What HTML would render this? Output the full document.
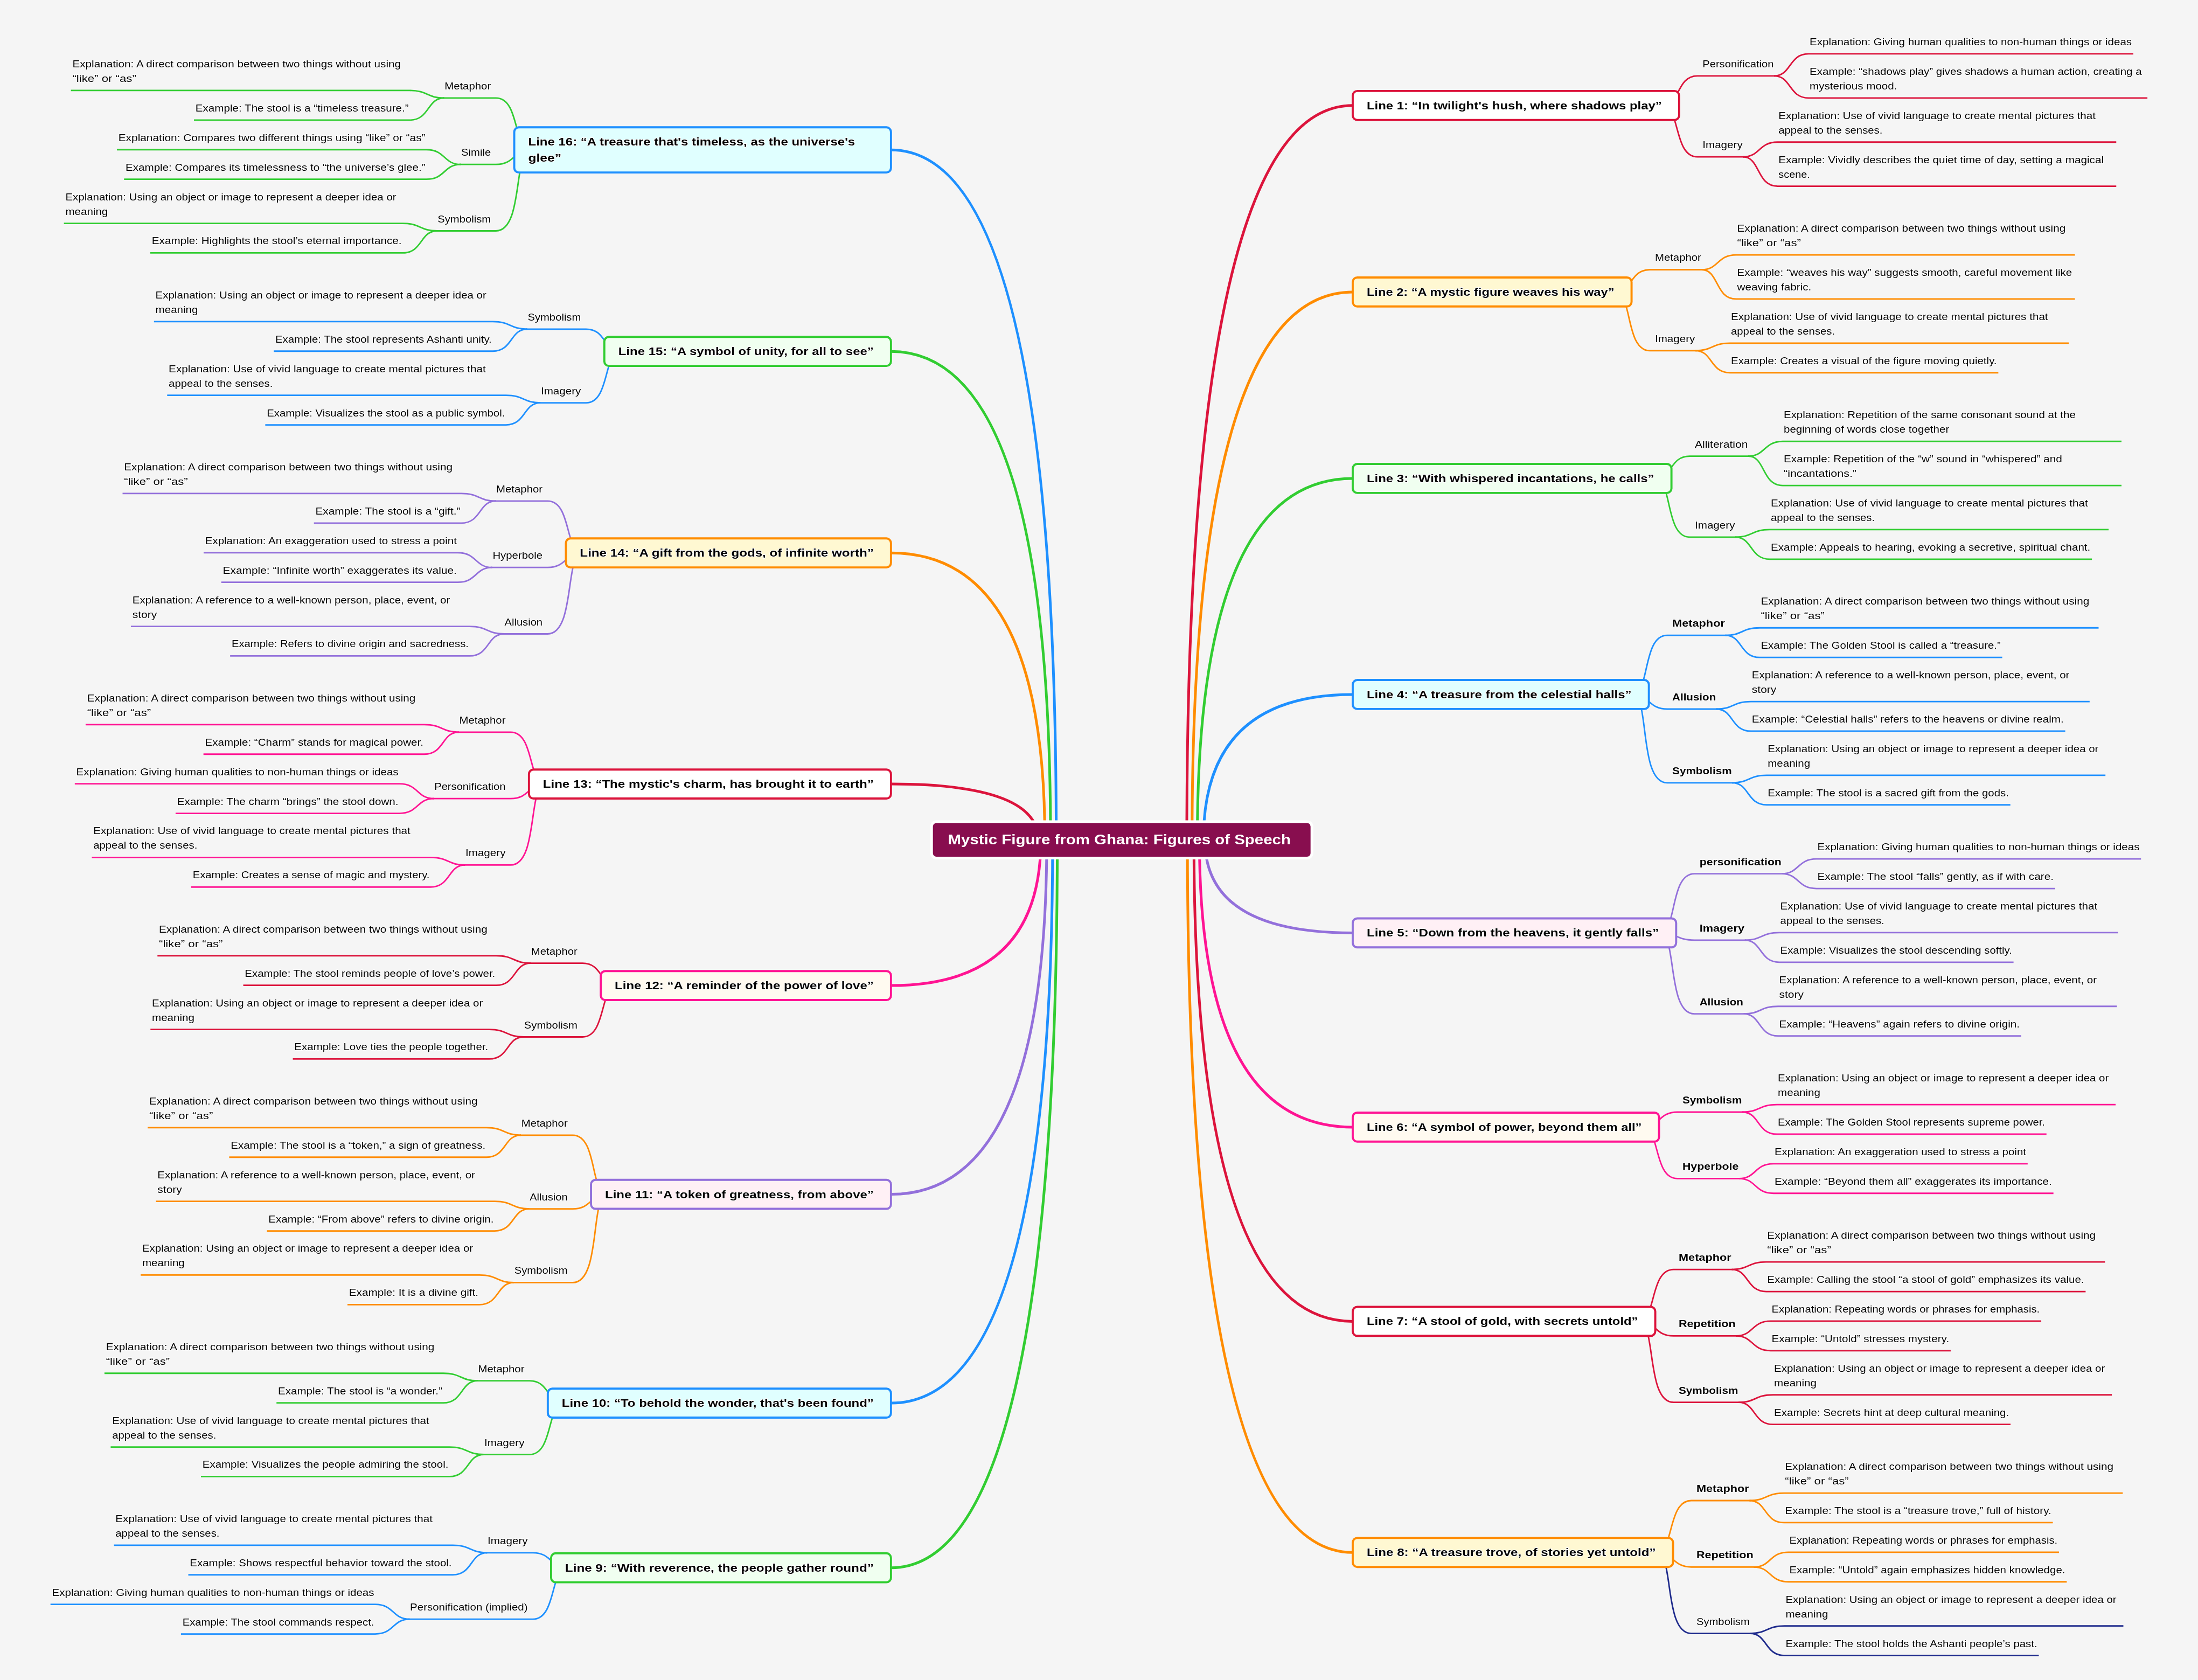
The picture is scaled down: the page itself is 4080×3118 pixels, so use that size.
<!DOCTYPE html><html><head><meta charset="utf-8"><style>html,body{margin:0;padding:0;background:#F5F5F5;}svg{display:block;will-change:transform}text{font-family:"Liberation Sans",sans-serif;}</style></head><body>
<svg width="4080" height="3118" viewBox="0 0 4080 3118">
<rect width="4080" height="3118" fill="#F5F5F5"/>
<g fill="none" stroke-linecap="butt">
<path d="M2202.97 1558.70Q2202.97 195.79 2511.00 195.79" stroke="#DC143C" stroke-width="5.0"/>
<path d="M3086.81 195.79C3118.81 195.79 3111.67 140.89 3150.81 140.89H3295.30" stroke="#DC143C" stroke-width="2.8"/>
<path d="M3293.30 140.89C3325.30 140.89 3319.97 99.94 3357.30 99.94H3959.90" stroke="#DC143C" stroke-width="2.8"/>
<path d="M3293.30 140.89C3325.30 140.89 3319.97 181.84 3357.30 181.84H3986.10" stroke="#DC143C" stroke-width="2.8"/>
<path d="M3086.81 195.79C3118.81 195.79 3106.40 291.19 3150.81 291.19H3237.48" stroke="#DC143C" stroke-width="2.8"/>
<path d="M3235.48 291.19C3267.48 291.19 3263.92 263.74 3299.48 263.74H3928.28" stroke="#DC143C" stroke-width="2.8"/>
<path d="M3235.48 291.19C3267.48 291.19 3260.41 345.64 3299.48 345.64H3928.28" stroke="#DC143C" stroke-width="2.8"/>
<path d="M2212.74 1558.70Q2212.74 541.89 2511.00 541.89" stroke="#FF8C00" stroke-width="5.0"/>
<path d="M2998.51 541.89C3030.51 541.89 3025.13 500.49 3062.51 500.49H3160.70" stroke="#FF8C00" stroke-width="2.8"/>
<path d="M3158.70 500.49C3190.70 500.49 3187.13 473.04 3222.70 473.04H3851.50" stroke="#FF8C00" stroke-width="2.8"/>
<path d="M3158.70 500.49C3190.70 500.49 3183.62 554.94 3222.70 554.94H3851.50" stroke="#FF8C00" stroke-width="2.8"/>
<path d="M2998.51 541.89C3030.51 541.89 3016.35 650.79 3062.51 650.79H3149.19" stroke="#FF8C00" stroke-width="2.8"/>
<path d="M3147.19 650.79C3179.19 650.79 3177.37 636.84 3211.19 636.84H3839.99" stroke="#FF8C00" stroke-width="2.8"/>
<path d="M3147.19 650.79C3179.19 650.79 3173.86 691.74 3211.19 691.74H3709.38" stroke="#FF8C00" stroke-width="2.8"/>
<path d="M2222.52 1558.70Q2222.52 887.99 2511.00 887.99" stroke="#32CD32" stroke-width="5.0"/>
<path d="M3072.56 887.99C3104.56 887.99 3099.17 846.59 3136.56 846.59H3247.17" stroke="#32CD32" stroke-width="2.8"/>
<path d="M3245.17 846.59C3277.17 846.59 3273.60 819.14 3309.17 819.14H3937.97" stroke="#32CD32" stroke-width="2.8"/>
<path d="M3245.17 846.59C3277.17 846.59 3270.09 901.04 3309.17 901.04H3937.97" stroke="#32CD32" stroke-width="2.8"/>
<path d="M3072.56 887.99C3104.56 887.99 3090.40 996.89 3136.56 996.89H3223.23" stroke="#32CD32" stroke-width="2.8"/>
<path d="M3221.23 996.89C3253.23 996.89 3251.42 982.94 3285.23 982.94H3914.03" stroke="#32CD32" stroke-width="2.8"/>
<path d="M3221.23 996.89C3253.23 996.89 3247.91 1037.84 3285.23 1037.84H3883.13" stroke="#32CD32" stroke-width="2.8"/>
<path d="M2233.85 1558.70Q2233.85 1288.99 2511.00 1288.99" stroke="#1E90FF" stroke-width="5.0"/>
<path d="M3030.63 1288.99C3062.63 1288.99 3048.36 1179.19 3094.63 1179.19H3204.67" stroke="#1E90FF" stroke-width="2.8"/>
<path d="M3202.67 1179.19C3234.67 1179.19 3232.86 1165.24 3266.67 1165.24H3895.47" stroke="#1E90FF" stroke-width="2.8"/>
<path d="M3202.67 1179.19C3234.67 1179.19 3229.35 1220.14 3266.67 1220.14H3716.60" stroke="#1E90FF" stroke-width="2.8"/>
<path d="M3030.63 1288.99C3062.63 1288.99 3059.12 1315.99 3094.63 1315.99H3188.03" stroke="#1E90FF" stroke-width="2.8"/>
<path d="M3186.03 1315.99C3218.03 1315.99 3216.22 1302.04 3250.03 1302.04H3878.83" stroke="#1E90FF" stroke-width="2.8"/>
<path d="M3186.03 1315.99C3218.03 1315.99 3212.71 1356.94 3250.03 1356.94H3833.58" stroke="#1E90FF" stroke-width="2.8"/>
<path d="M3030.63 1288.99C3062.63 1288.99 3041.34 1452.79 3094.63 1452.79H3217.39" stroke="#1E90FF" stroke-width="2.8"/>
<path d="M3215.39 1452.79C3247.39 1452.79 3245.58 1438.84 3279.39 1438.84H3908.19" stroke="#1E90FF" stroke-width="2.8"/>
<path d="M3215.39 1452.79C3247.39 1452.79 3242.07 1493.74 3279.39 1493.74H3731.71" stroke="#1E90FF" stroke-width="2.8"/>
<path d="M2236.59 1558.70Q2236.59 1731.39 2511.00 1731.39" stroke="#9370DB" stroke-width="5.0"/>
<path d="M3081.26 1731.39C3113.26 1731.39 3098.99 1621.59 3145.26 1621.59H3309.64" stroke="#9370DB" stroke-width="2.8"/>
<path d="M3307.64 1621.59C3339.64 1621.59 3336.07 1594.14 3371.64 1594.14H3974.24" stroke="#9370DB" stroke-width="2.8"/>
<path d="M3307.64 1621.59C3339.64 1621.59 3336.07 1649.04 3371.64 1649.04H3814.88" stroke="#9370DB" stroke-width="2.8"/>
<path d="M3081.26 1731.39C3113.26 1731.39 3111.50 1744.89 3145.26 1744.89H3240.80" stroke="#9370DB" stroke-width="2.8"/>
<path d="M3238.80 1744.89C3270.80 1744.89 3268.98 1730.94 3302.80 1730.94H3931.60" stroke="#9370DB" stroke-width="2.8"/>
<path d="M3238.80 1744.89C3270.80 1744.89 3265.47 1785.84 3302.80 1785.84H3737.60" stroke="#9370DB" stroke-width="2.8"/>
<path d="M3081.26 1731.39C3113.26 1731.39 3093.72 1881.69 3145.26 1881.69H3238.66" stroke="#9370DB" stroke-width="2.8"/>
<path d="M3236.66 1881.69C3268.66 1881.69 3266.84 1867.74 3300.66 1867.74H3929.46" stroke="#9370DB" stroke-width="2.8"/>
<path d="M3236.66 1881.69C3268.66 1881.69 3263.33 1922.64 3300.66 1922.64H3751.79" stroke="#9370DB" stroke-width="2.8"/>
<path d="M2226.40 1558.70Q2226.40 2091.89 2511.00 2091.89" stroke="#FF1493" stroke-width="5.0"/>
<path d="M3049.51 2091.89C3081.51 2091.89 3077.88 2063.99 3113.51 2063.99H3236.27" stroke="#FF1493" stroke-width="2.8"/>
<path d="M3234.27 2063.99C3266.27 2063.99 3264.45 2050.04 3298.27 2050.04H3927.07" stroke="#FF1493" stroke-width="2.8"/>
<path d="M3234.27 2063.99C3266.27 2063.99 3260.94 2104.94 3298.27 2104.94H3798.72" stroke="#FF1493" stroke-width="2.8"/>
<path d="M3049.51 2091.89C3081.51 2091.89 3069.11 2187.29 3113.51 2187.29H3230.14" stroke="#FF1493" stroke-width="2.8"/>
<path d="M3228.14 2187.29C3260.14 2187.29 3256.57 2159.84 3292.14 2159.84H3763.83" stroke="#FF1493" stroke-width="2.8"/>
<path d="M3228.14 2187.29C3260.14 2187.29 3256.57 2214.74 3292.14 2214.74H3811.68" stroke="#FF1493" stroke-width="2.8"/>
<path d="M2216.22 1558.70Q2216.22 2452.39 2511.00 2452.39" stroke="#DC143C" stroke-width="5.0"/>
<path d="M3042.51 2452.39C3074.51 2452.39 3061.99 2356.09 3106.51 2356.09H3216.55" stroke="#DC143C" stroke-width="2.8"/>
<path d="M3214.55 2356.09C3246.55 2356.09 3244.73 2342.14 3278.55 2342.14H3907.35" stroke="#DC143C" stroke-width="2.8"/>
<path d="M3214.55 2356.09C3246.55 2356.09 3241.22 2397.04 3278.55 2397.04H3871.38" stroke="#DC143C" stroke-width="2.8"/>
<path d="M3042.51 2452.39C3074.51 2452.39 3071.00 2479.39 3106.51 2479.39H3224.64" stroke="#DC143C" stroke-width="2.8"/>
<path d="M3222.64 2479.39C3254.64 2479.39 3251.07 2451.94 3286.64 2451.94H3789.05" stroke="#DC143C" stroke-width="2.8"/>
<path d="M3222.64 2479.39C3254.64 2479.39 3251.07 2506.84 3286.64 2506.84H3620.94" stroke="#DC143C" stroke-width="2.8"/>
<path d="M3042.51 2452.39C3074.51 2452.39 3054.97 2602.69 3106.51 2602.69H3229.27" stroke="#DC143C" stroke-width="2.8"/>
<path d="M3227.27 2602.69C3259.27 2602.69 3257.45 2588.74 3291.27 2588.74H3920.07" stroke="#DC143C" stroke-width="2.8"/>
<path d="M3227.27 2602.69C3259.27 2602.69 3253.94 2643.64 3291.27 2643.64H3732.02" stroke="#DC143C" stroke-width="2.8"/>
<path d="M2204.11 1558.70Q2204.11 2881.29 2511.00 2881.29" stroke="#FF8C00" stroke-width="5.0"/>
<path d="M3075.48 2881.29C3107.48 2881.29 3094.96 2784.99 3139.48 2784.99H3249.52" stroke="#FF8C00" stroke-width="2.8"/>
<path d="M3247.52 2784.99C3279.52 2784.99 3277.70 2771.04 3311.52 2771.04H3940.32" stroke="#FF8C00" stroke-width="2.8"/>
<path d="M3247.52 2784.99C3279.52 2784.99 3274.19 2825.94 3311.52 2825.94H3810.55" stroke="#FF8C00" stroke-width="2.8"/>
<path d="M3075.48 2881.29C3107.48 2881.29 3103.97 2908.29 3139.48 2908.29H3257.61" stroke="#FF8C00" stroke-width="2.8"/>
<path d="M3255.61 2908.29C3287.61 2908.29 3284.04 2880.84 3319.61 2880.84H3822.02" stroke="#FF8C00" stroke-width="2.8"/>
<path d="M3255.61 2908.29C3287.61 2908.29 3284.04 2935.74 3319.61 2935.74H3836.35" stroke="#FF8C00" stroke-width="2.8"/>
<path d="M3075.48 2881.29C3107.48 2881.29 3087.94 3031.59 3139.48 3031.59H3250.67" stroke="#1F2B8C" stroke-width="2.8"/>
<path d="M3248.67 3031.59C3280.67 3031.59 3278.86 3017.64 3312.67 3017.64H3941.47" stroke="#1F2B8C" stroke-width="2.8"/>
<path d="M3248.67 3031.59C3280.67 3031.59 3275.35 3072.54 3312.67 3072.54H3784.49" stroke="#1F2B8C" stroke-width="2.8"/>
<path d="M1960.60 1558.70Q1960.60 278.20 1653.80 278.20" stroke="#1E90FF" stroke-width="5.0"/>
<path d="M984.60 278.20C952.60 278.20 965.12 181.90 920.60 181.90H822.41" stroke="#32CD32" stroke-width="2.8"/>
<path d="M824.41 181.90C792.41 181.90 794.22 167.95 760.41 167.95H131.61" stroke="#32CD32" stroke-width="2.8"/>
<path d="M824.41 181.90C792.41 181.90 797.73 222.85 760.41 222.85H360.04" stroke="#32CD32" stroke-width="2.8"/>
<path d="M984.60 278.20C952.60 278.20 956.11 305.20 920.60 305.20H853.33" stroke="#32CD32" stroke-width="2.8"/>
<path d="M855.33 305.20C823.33 305.20 826.90 277.75 791.33 277.75H216.93" stroke="#32CD32" stroke-width="2.8"/>
<path d="M855.33 305.20C823.33 305.20 826.90 332.65 791.33 332.65H230.26" stroke="#32CD32" stroke-width="2.8"/>
<path d="M984.60 278.20C952.60 278.20 972.14 428.50 920.60 428.50H809.41" stroke="#32CD32" stroke-width="2.8"/>
<path d="M811.41 428.50C779.41 428.50 781.22 414.55 747.41 414.55H118.61" stroke="#32CD32" stroke-width="2.8"/>
<path d="M811.41 428.50C779.41 428.50 784.73 469.45 747.41 469.45H279.01" stroke="#32CD32" stroke-width="2.8"/>
<path d="M1950.04 1558.70Q1950.04 652.20 1653.80 652.20" stroke="#32CD32" stroke-width="5.0"/>
<path d="M1151.81 652.20C1119.81 652.20 1125.19 610.80 1087.81 610.80H976.61" stroke="#1E90FF" stroke-width="2.8"/>
<path d="M978.61 610.80C946.61 610.80 948.43 596.85 914.61 596.85H285.81" stroke="#1E90FF" stroke-width="2.8"/>
<path d="M978.61 610.80C946.61 610.80 951.94 651.75 914.61 651.75H508.12" stroke="#1E90FF" stroke-width="2.8"/>
<path d="M1151.81 652.20C1119.81 652.20 1132.21 747.60 1087.81 747.60H1001.13" stroke="#1E90FF" stroke-width="2.8"/>
<path d="M1003.13 747.60C971.13 747.60 972.94 733.65 939.13 733.65H310.33" stroke="#1E90FF" stroke-width="2.8"/>
<path d="M1003.13 747.60C971.13 747.60 976.45 788.55 939.13 788.55H492.39" stroke="#1E90FF" stroke-width="2.8"/>
<path d="M1939.48 1558.70Q1939.48 1026.20 1653.80 1026.20" stroke="#FF8C00" stroke-width="5.0"/>
<path d="M1080.49 1026.20C1048.49 1026.20 1061.01 929.90 1016.49 929.90H918.30" stroke="#9370DB" stroke-width="2.8"/>
<path d="M920.30 929.90C888.30 929.90 890.11 915.95 856.30 915.95H227.50" stroke="#9370DB" stroke-width="2.8"/>
<path d="M920.30 929.90C888.30 929.90 893.62 970.85 856.30 970.85H582.70" stroke="#9370DB" stroke-width="2.8"/>
<path d="M1080.49 1026.20C1048.49 1026.20 1052.00 1053.20 1016.49 1053.20H911.64" stroke="#9370DB" stroke-width="2.8"/>
<path d="M913.64 1053.20C881.64 1053.20 885.21 1025.75 849.64 1025.75H377.95" stroke="#9370DB" stroke-width="2.8"/>
<path d="M913.64 1053.20C881.64 1053.20 885.21 1080.65 849.64 1080.65H410.76" stroke="#9370DB" stroke-width="2.8"/>
<path d="M1080.49 1026.20C1048.49 1026.20 1068.03 1176.50 1016.49 1176.50H933.74" stroke="#9370DB" stroke-width="2.8"/>
<path d="M935.74 1176.50C903.74 1176.50 905.55 1162.55 871.74 1162.55H242.94" stroke="#9370DB" stroke-width="2.8"/>
<path d="M935.74 1176.50C903.74 1176.50 909.06 1217.45 871.74 1217.45H427.19" stroke="#9370DB" stroke-width="2.8"/>
<path d="M1927.36 1558.70Q1927.36 1455.10 1653.80 1455.10" stroke="#DC143C" stroke-width="5.0"/>
<path d="M1011.90 1455.10C979.90 1455.10 992.42 1358.80 947.90 1358.80H849.71" stroke="#FF1493" stroke-width="2.8"/>
<path d="M851.71 1358.80C819.71 1358.80 821.52 1344.85 787.71 1344.85H158.91" stroke="#FF1493" stroke-width="2.8"/>
<path d="M851.71 1358.80C819.71 1358.80 825.03 1399.75 787.71 1399.75H377.67" stroke="#FF1493" stroke-width="2.8"/>
<path d="M1011.90 1455.10C979.90 1455.10 983.41 1482.10 947.90 1482.10H803.41" stroke="#FF1493" stroke-width="2.8"/>
<path d="M805.41 1482.10C773.41 1482.10 776.98 1454.65 741.41 1454.65H138.81" stroke="#FF1493" stroke-width="2.8"/>
<path d="M805.41 1482.10C773.41 1482.10 776.98 1509.55 741.41 1509.55H325.92" stroke="#FF1493" stroke-width="2.8"/>
<path d="M1011.90 1455.10C979.90 1455.10 999.44 1605.40 947.90 1605.40H861.22" stroke="#FF1493" stroke-width="2.8"/>
<path d="M863.22 1605.40C831.22 1605.40 833.04 1591.45 799.22 1591.45H170.42" stroke="#FF1493" stroke-width="2.8"/>
<path d="M863.22 1605.40C831.22 1605.40 836.55 1646.35 799.22 1646.35H354.87" stroke="#FF1493" stroke-width="2.8"/>
<path d="M1932.07 1558.70Q1932.07 1829.10 1653.80 1829.10" stroke="#FF1493" stroke-width="5.0"/>
<path d="M1145.24 1829.10C1113.24 1829.10 1118.63 1787.70 1081.24 1787.70H983.05" stroke="#DC143C" stroke-width="2.8"/>
<path d="M985.05 1787.70C953.05 1787.70 954.86 1773.75 921.05 1773.75H292.25" stroke="#DC143C" stroke-width="2.8"/>
<path d="M985.05 1787.70C953.05 1787.70 958.37 1828.65 921.05 1828.65H451.56" stroke="#DC143C" stroke-width="2.8"/>
<path d="M1145.24 1829.10C1113.24 1829.10 1125.65 1924.50 1081.24 1924.50H970.05" stroke="#DC143C" stroke-width="2.8"/>
<path d="M972.05 1924.50C940.05 1924.50 941.86 1910.55 908.05 1910.55H279.25" stroke="#DC143C" stroke-width="2.8"/>
<path d="M972.05 1924.50C940.05 1924.50 945.37 1965.45 908.05 1965.45H543.56" stroke="#DC143C" stroke-width="2.8"/>
<path d="M1943.02 1558.70Q1943.02 2216.60 1653.80 2216.60" stroke="#9370DB" stroke-width="5.0"/>
<path d="M1127.10 2216.60C1095.10 2216.60 1109.38 2106.80 1063.10 2106.80H964.91" stroke="#FF8C00" stroke-width="2.8"/>
<path d="M966.91 2106.80C934.91 2106.80 936.72 2092.85 902.91 2092.85H274.11" stroke="#FF8C00" stroke-width="2.8"/>
<path d="M966.91 2106.80C934.91 2106.80 940.23 2147.75 902.91 2147.75H425.45" stroke="#FF8C00" stroke-width="2.8"/>
<path d="M1127.10 2216.60C1095.10 2216.60 1098.61 2243.60 1063.10 2243.60H980.35" stroke="#FF8C00" stroke-width="2.8"/>
<path d="M982.35 2243.60C950.35 2243.60 952.16 2229.65 918.35 2229.65H289.55" stroke="#FF8C00" stroke-width="2.8"/>
<path d="M982.35 2243.60C950.35 2243.60 955.67 2284.55 918.35 2284.55H495.45" stroke="#FF8C00" stroke-width="2.8"/>
<path d="M1127.10 2216.60C1095.10 2216.60 1116.40 2380.40 1063.10 2380.40H951.91" stroke="#FF8C00" stroke-width="2.8"/>
<path d="M953.91 2380.40C921.91 2380.40 923.72 2366.45 889.91 2366.45H261.11" stroke="#FF8C00" stroke-width="2.8"/>
<path d="M953.91 2380.40C921.91 2380.40 927.23 2421.35 889.91 2421.35H644.98" stroke="#FF8C00" stroke-width="2.8"/>
<path d="M1953.96 1558.70Q1953.96 2604.10 1653.80 2604.10" stroke="#1E90FF" stroke-width="5.0"/>
<path d="M1046.90 2604.10C1014.90 2604.10 1020.28 2562.70 982.90 2562.70H884.71" stroke="#32CD32" stroke-width="2.8"/>
<path d="M886.71 2562.70C854.71 2562.70 856.52 2548.75 822.71 2548.75H193.91" stroke="#32CD32" stroke-width="2.8"/>
<path d="M886.71 2562.70C854.71 2562.70 860.03 2603.65 822.71 2603.65H513.23" stroke="#32CD32" stroke-width="2.8"/>
<path d="M1046.90 2604.10C1014.90 2604.10 1027.30 2699.50 982.90 2699.50H896.22" stroke="#32CD32" stroke-width="2.8"/>
<path d="M898.22 2699.50C866.22 2699.50 868.04 2685.55 834.22 2685.55H205.42" stroke="#32CD32" stroke-width="2.8"/>
<path d="M898.22 2699.50C866.22 2699.50 871.55 2740.45 834.22 2740.45H373.00" stroke="#32CD32" stroke-width="2.8"/>
<path d="M1962.59 1558.70Q1962.59 2909.70 1653.80 2909.70" stroke="#32CD32" stroke-width="5.0"/>
<path d="M1052.99 2909.70C1020.99 2909.70 1024.62 2881.80 988.99 2881.80H902.32" stroke="#1E90FF" stroke-width="2.8"/>
<path d="M904.32 2881.80C872.32 2881.80 874.13 2867.85 840.32 2867.85H211.52" stroke="#1E90FF" stroke-width="2.8"/>
<path d="M904.32 2881.80C872.32 2881.80 877.64 2922.75 840.32 2922.75H349.54" stroke="#1E90FF" stroke-width="2.8"/>
<path d="M1052.99 2909.70C1020.99 2909.70 1033.40 3005.10 988.99 3005.10H758.30" stroke="#1E90FF" stroke-width="2.8"/>
<path d="M760.30 3005.10C728.30 3005.10 731.87 2977.65 696.30 2977.65H93.70" stroke="#1E90FF" stroke-width="2.8"/>
<path d="M760.30 3005.10C728.30 3005.10 731.87 3032.55 696.30 3032.55H335.87" stroke="#1E90FF" stroke-width="2.8"/>
</g>
<rect x="2510.95" y="168.86" width="605.91" height="53.85" rx="8.5" fill="#FFFFFF" stroke="#DC143C" stroke-width="3.9"/>
<rect x="2510.95" y="514.96" width="517.61" height="53.85" rx="8.5" fill="#FFF8D2" stroke="#FF8C00" stroke-width="3.9"/>
<rect x="2510.95" y="861.06" width="591.66" height="53.85" rx="8.5" fill="#F0FFF0" stroke="#32CD32" stroke-width="3.9"/>
<rect x="2510.95" y="1262.07" width="549.73" height="53.85" rx="8.5" fill="#E0FFFF" stroke="#1E90FF" stroke-width="3.9"/>
<rect x="2510.95" y="1704.47" width="600.36" height="53.85" rx="8.5" fill="#FFF0F5" stroke="#9370DB" stroke-width="3.9"/>
<rect x="2510.95" y="2064.97" width="568.61" height="53.85" rx="8.5" fill="#FFFAF0" stroke="#FF1493" stroke-width="3.9"/>
<rect x="2510.95" y="2425.47" width="561.61" height="53.85" rx="8.5" fill="#FFFFFF" stroke="#DC143C" stroke-width="3.9"/>
<rect x="2510.95" y="2854.37" width="594.58" height="53.85" rx="8.5" fill="#FFF8D2" stroke="#FF8C00" stroke-width="3.9"/>
<rect x="954.55" y="236.27" width="699.30" height="83.85" rx="8.5" fill="#E0FFFF" stroke="#1E90FF" stroke-width="3.9"/>
<rect x="1121.76" y="625.27" width="532.09" height="53.85" rx="8.5" fill="#F0FFF0" stroke="#32CD32" stroke-width="3.9"/>
<rect x="1050.44" y="999.27" width="603.41" height="53.85" rx="8.5" fill="#FFF8D2" stroke="#FF8C00" stroke-width="3.9"/>
<rect x="981.85" y="1428.18" width="672.00" height="53.85" rx="8.5" fill="#FFFFFF" stroke="#DC143C" stroke-width="3.9"/>
<rect x="1115.19" y="1802.18" width="538.66" height="53.85" rx="8.5" fill="#FFFAF0" stroke="#FF1493" stroke-width="3.9"/>
<rect x="1097.05" y="2189.68" width="556.80" height="53.85" rx="8.5" fill="#FFF0F5" stroke="#9370DB" stroke-width="3.9"/>
<rect x="1016.85" y="2577.18" width="637.00" height="53.85" rx="8.5" fill="#E0FFFF" stroke="#1E90FF" stroke-width="3.9"/>
<rect x="1022.94" y="2882.78" width="630.91" height="53.85" rx="8.5" fill="#F0FFF0" stroke="#32CD32" stroke-width="3.9"/>
<rect x="1729.20" y="1524.90" width="706.00" height="67.60" rx="9" fill="#880E4F" stroke="#FFFFFF" stroke-width="5"/>
<text x="2536.90" y="202.79" font-size="20.9" font-weight="bold" fill="#000" textLength="547.91" lengthAdjust="spacingAndGlyphs" stroke="#FFFFFF" stroke-width="2" paint-order="stroke" stroke-linejoin="round">Line 1: “In twilight's hush, where shadows play”</text>
<text x="3160.25" y="124.89" font-size="18.8" fill="#000" textLength="132.25" lengthAdjust="spacingAndGlyphs" stroke="#FFFFFF" stroke-width="2" paint-order="stroke" stroke-linejoin="round">Personification</text>
<text x="3359.10" y="83.94" font-size="18.8" fill="#000" textLength="598.00" lengthAdjust="spacingAndGlyphs" stroke="#FFFFFF" stroke-width="2" paint-order="stroke" stroke-linejoin="round">Explanation: Giving human qualities to non-human things or ideas</text>
<text x="3359.10" y="138.84" font-size="18.8" fill="#000" textLength="616.48" lengthAdjust="spacingAndGlyphs" stroke="#FFFFFF" stroke-width="2" paint-order="stroke" stroke-linejoin="round">Example: “shadows play” gives shadows a human action, creating a</text>
<text x="3359.10" y="165.84" font-size="18.8" fill="#000" textLength="162.33" lengthAdjust="spacingAndGlyphs" stroke="#FFFFFF" stroke-width="2" paint-order="stroke" stroke-linejoin="round">mysterious mood.</text>
<text x="3160.25" y="275.19" font-size="18.8" fill="#000" textLength="74.44" lengthAdjust="spacingAndGlyphs" stroke="#FFFFFF" stroke-width="2" paint-order="stroke" stroke-linejoin="round">Imagery</text>
<text x="3301.28" y="220.74" font-size="18.8" fill="#000" textLength="588.61" lengthAdjust="spacingAndGlyphs" stroke="#FFFFFF" stroke-width="2" paint-order="stroke" stroke-linejoin="round">Explanation: Use of vivid language to create mental pictures that</text>
<text x="3301.28" y="247.74" font-size="18.8" fill="#000" textLength="193.17" lengthAdjust="spacingAndGlyphs" stroke="#FFFFFF" stroke-width="2" paint-order="stroke" stroke-linejoin="round">appeal to the senses.</text>
<text x="3301.28" y="302.64" font-size="18.8" fill="#000" textLength="603.77" lengthAdjust="spacingAndGlyphs" stroke="#FFFFFF" stroke-width="2" paint-order="stroke" stroke-linejoin="round">Example: Vividly describes the quiet time of day, setting a magical</text>
<text x="3301.28" y="329.64" font-size="18.8" fill="#000" textLength="58.55" lengthAdjust="spacingAndGlyphs" stroke="#FFFFFF" stroke-width="2" paint-order="stroke" stroke-linejoin="round">scene.</text>
<text x="2536.90" y="548.89" font-size="20.9" font-weight="bold" fill="#000" textLength="459.61" lengthAdjust="spacingAndGlyphs" stroke="#FFFFFF" stroke-width="2" paint-order="stroke" stroke-linejoin="round">Line 2: “A mystic figure weaves his way”</text>
<text x="3071.95" y="484.49" font-size="18.8" fill="#000" textLength="85.95" lengthAdjust="spacingAndGlyphs" stroke="#FFFFFF" stroke-width="2" paint-order="stroke" stroke-linejoin="round">Metaphor</text>
<text x="3224.50" y="430.04" font-size="18.8" fill="#000" textLength="609.69" lengthAdjust="spacingAndGlyphs" stroke="#FFFFFF" stroke-width="2" paint-order="stroke" stroke-linejoin="round">Explanation: A direct comparison between two things without using</text>
<text x="3224.50" y="457.04" font-size="18.8" fill="#000" textLength="118.44" lengthAdjust="spacingAndGlyphs" stroke="#FFFFFF" stroke-width="2" paint-order="stroke" stroke-linejoin="round">“like” or “as”</text>
<text x="3224.50" y="511.94" font-size="18.8" fill="#000" textLength="621.67" lengthAdjust="spacingAndGlyphs" stroke="#FFFFFF" stroke-width="2" paint-order="stroke" stroke-linejoin="round">Example: “weaves his way” suggests smooth, careful movement like</text>
<text x="3224.50" y="538.94" font-size="18.8" fill="#000" textLength="137.84" lengthAdjust="spacingAndGlyphs" stroke="#FFFFFF" stroke-width="2" paint-order="stroke" stroke-linejoin="round">weaving fabric.</text>
<text x="3071.95" y="634.79" font-size="18.8" fill="#000" textLength="74.44" lengthAdjust="spacingAndGlyphs" stroke="#FFFFFF" stroke-width="2" paint-order="stroke" stroke-linejoin="round">Imagery</text>
<text x="3212.99" y="593.84" font-size="18.8" fill="#000" textLength="588.61" lengthAdjust="spacingAndGlyphs" stroke="#FFFFFF" stroke-width="2" paint-order="stroke" stroke-linejoin="round">Explanation: Use of vivid language to create mental pictures that</text>
<text x="3212.99" y="620.84" font-size="18.8" fill="#000" textLength="193.17" lengthAdjust="spacingAndGlyphs" stroke="#FFFFFF" stroke-width="2" paint-order="stroke" stroke-linejoin="round">appeal to the senses.</text>
<text x="3212.99" y="675.74" font-size="18.8" fill="#000" textLength="493.59" lengthAdjust="spacingAndGlyphs" stroke="#FFFFFF" stroke-width="2" paint-order="stroke" stroke-linejoin="round">Example: Creates a visual of the figure moving quietly.</text>
<text x="2536.90" y="894.99" font-size="20.9" font-weight="bold" fill="#000" textLength="533.66" lengthAdjust="spacingAndGlyphs" stroke="#FFFFFF" stroke-width="2" paint-order="stroke" stroke-linejoin="round">Line 3: “With whispered incantations, he calls”</text>
<text x="3146.00" y="830.59" font-size="18.8" fill="#000" textLength="98.38" lengthAdjust="spacingAndGlyphs" stroke="#FFFFFF" stroke-width="2" paint-order="stroke" stroke-linejoin="round">Alliteration</text>
<text x="3310.97" y="776.14" font-size="18.8" fill="#000" textLength="541.83" lengthAdjust="spacingAndGlyphs" stroke="#FFFFFF" stroke-width="2" paint-order="stroke" stroke-linejoin="round">Explanation: Repetition of the same consonant sound at the</text>
<text x="3310.97" y="803.14" font-size="18.8" fill="#000" textLength="307.31" lengthAdjust="spacingAndGlyphs" stroke="#FFFFFF" stroke-width="2" paint-order="stroke" stroke-linejoin="round">beginning of words close together</text>
<text x="3310.97" y="858.04" font-size="18.8" fill="#000" textLength="516.78" lengthAdjust="spacingAndGlyphs" stroke="#FFFFFF" stroke-width="2" paint-order="stroke" stroke-linejoin="round">Example: Repetition of the “w” sound in “whispered” and</text>
<text x="3310.97" y="885.04" font-size="18.8" fill="#000" textLength="135.06" lengthAdjust="spacingAndGlyphs" stroke="#FFFFFF" stroke-width="2" paint-order="stroke" stroke-linejoin="round">“incantations.”</text>
<text x="3146.00" y="980.89" font-size="18.8" fill="#000" textLength="74.44" lengthAdjust="spacingAndGlyphs" stroke="#FFFFFF" stroke-width="2" paint-order="stroke" stroke-linejoin="round">Imagery</text>
<text x="3287.03" y="939.94" font-size="18.8" fill="#000" textLength="588.61" lengthAdjust="spacingAndGlyphs" stroke="#FFFFFF" stroke-width="2" paint-order="stroke" stroke-linejoin="round">Explanation: Use of vivid language to create mental pictures that</text>
<text x="3287.03" y="966.94" font-size="18.8" fill="#000" textLength="193.17" lengthAdjust="spacingAndGlyphs" stroke="#FFFFFF" stroke-width="2" paint-order="stroke" stroke-linejoin="round">appeal to the senses.</text>
<text x="3287.03" y="1021.84" font-size="18.8" fill="#000" textLength="593.30" lengthAdjust="spacingAndGlyphs" stroke="#FFFFFF" stroke-width="2" paint-order="stroke" stroke-linejoin="round">Example: Appeals to hearing, evoking a secretive, spiritual chant.</text>
<text x="2536.90" y="1295.99" font-size="20.9" font-weight="bold" fill="#000" textLength="491.73" lengthAdjust="spacingAndGlyphs" stroke="#FFFFFF" stroke-width="2" paint-order="stroke" stroke-linejoin="round">Line 4: “A treasure from the celestial halls”</text>
<text x="3104.07" y="1163.19" font-size="18.8" font-weight="bold" fill="#000" textLength="97.80" lengthAdjust="spacingAndGlyphs" stroke="#FFFFFF" stroke-width="2" paint-order="stroke" stroke-linejoin="round">Metaphor</text>
<text x="3268.47" y="1122.24" font-size="18.8" fill="#000" textLength="609.69" lengthAdjust="spacingAndGlyphs" stroke="#FFFFFF" stroke-width="2" paint-order="stroke" stroke-linejoin="round">Explanation: A direct comparison between two things without using</text>
<text x="3268.47" y="1149.24" font-size="18.8" fill="#000" textLength="118.44" lengthAdjust="spacingAndGlyphs" stroke="#FFFFFF" stroke-width="2" paint-order="stroke" stroke-linejoin="round">“like” or “as”</text>
<text x="3268.47" y="1204.14" font-size="18.8" fill="#000" textLength="445.33" lengthAdjust="spacingAndGlyphs" stroke="#FFFFFF" stroke-width="2" paint-order="stroke" stroke-linejoin="round">Example: The Golden Stool is called a “treasure.”</text>
<text x="3104.07" y="1299.99" font-size="18.8" font-weight="bold" fill="#000" textLength="81.16" lengthAdjust="spacingAndGlyphs" stroke="#FFFFFF" stroke-width="2" paint-order="stroke" stroke-linejoin="round">Allusion</text>
<text x="3251.83" y="1259.04" font-size="18.8" fill="#000" textLength="589.59" lengthAdjust="spacingAndGlyphs" stroke="#FFFFFF" stroke-width="2" paint-order="stroke" stroke-linejoin="round">Explanation: A reference to a well-known person, place, event, or</text>
<text x="3251.83" y="1286.04" font-size="18.8" fill="#000" textLength="45.52" lengthAdjust="spacingAndGlyphs" stroke="#FFFFFF" stroke-width="2" paint-order="stroke" stroke-linejoin="round">story</text>
<text x="3251.83" y="1340.94" font-size="18.8" fill="#000" textLength="578.95" lengthAdjust="spacingAndGlyphs" stroke="#FFFFFF" stroke-width="2" paint-order="stroke" stroke-linejoin="round">Example: “Celestial halls” refers to the heavens or divine realm.</text>
<text x="3104.07" y="1436.79" font-size="18.8" font-weight="bold" fill="#000" textLength="110.52" lengthAdjust="spacingAndGlyphs" stroke="#FFFFFF" stroke-width="2" paint-order="stroke" stroke-linejoin="round">Symbolism</text>
<text x="3281.19" y="1395.84" font-size="18.8" fill="#000" textLength="614.22" lengthAdjust="spacingAndGlyphs" stroke="#FFFFFF" stroke-width="2" paint-order="stroke" stroke-linejoin="round">Explanation: Using an object or image to represent a deeper idea or</text>
<text x="3281.19" y="1422.84" font-size="18.8" fill="#000" textLength="78.88" lengthAdjust="spacingAndGlyphs" stroke="#FFFFFF" stroke-width="2" paint-order="stroke" stroke-linejoin="round">meaning</text>
<text x="3281.19" y="1477.74" font-size="18.8" fill="#000" textLength="447.72" lengthAdjust="spacingAndGlyphs" stroke="#FFFFFF" stroke-width="2" paint-order="stroke" stroke-linejoin="round">Example: The stool is a sacred gift from the gods.</text>
<text x="2536.90" y="1738.39" font-size="20.9" font-weight="bold" fill="#000" textLength="542.36" lengthAdjust="spacingAndGlyphs" stroke="#FFFFFF" stroke-width="2" paint-order="stroke" stroke-linejoin="round">Line 5: “Down from the heavens, it gently falls”</text>
<text x="3154.70" y="1605.59" font-size="18.8" font-weight="bold" fill="#000" textLength="152.14" lengthAdjust="spacingAndGlyphs" stroke="#FFFFFF" stroke-width="2" paint-order="stroke" stroke-linejoin="round">personification</text>
<text x="3373.44" y="1578.14" font-size="18.8" fill="#000" textLength="598.00" lengthAdjust="spacingAndGlyphs" stroke="#FFFFFF" stroke-width="2" paint-order="stroke" stroke-linejoin="round">Explanation: Giving human qualities to non-human things or ideas</text>
<text x="3373.44" y="1633.04" font-size="18.8" fill="#000" textLength="438.64" lengthAdjust="spacingAndGlyphs" stroke="#FFFFFF" stroke-width="2" paint-order="stroke" stroke-linejoin="round">Example: The stool “falls” gently, as if with care.</text>
<text x="3154.70" y="1728.89" font-size="18.8" font-weight="bold" fill="#000" textLength="83.30" lengthAdjust="spacingAndGlyphs" stroke="#FFFFFF" stroke-width="2" paint-order="stroke" stroke-linejoin="round">Imagery</text>
<text x="3304.60" y="1687.94" font-size="18.8" fill="#000" textLength="588.61" lengthAdjust="spacingAndGlyphs" stroke="#FFFFFF" stroke-width="2" paint-order="stroke" stroke-linejoin="round">Explanation: Use of vivid language to create mental pictures that</text>
<text x="3304.60" y="1714.94" font-size="18.8" fill="#000" textLength="193.17" lengthAdjust="spacingAndGlyphs" stroke="#FFFFFF" stroke-width="2" paint-order="stroke" stroke-linejoin="round">appeal to the senses.</text>
<text x="3304.60" y="1769.84" font-size="18.8" fill="#000" textLength="430.20" lengthAdjust="spacingAndGlyphs" stroke="#FFFFFF" stroke-width="2" paint-order="stroke" stroke-linejoin="round">Example: Visualizes the stool descending softly.</text>
<text x="3154.70" y="1865.69" font-size="18.8" font-weight="bold" fill="#000" textLength="81.16" lengthAdjust="spacingAndGlyphs" stroke="#FFFFFF" stroke-width="2" paint-order="stroke" stroke-linejoin="round">Allusion</text>
<text x="3302.46" y="1824.74" font-size="18.8" fill="#000" textLength="589.59" lengthAdjust="spacingAndGlyphs" stroke="#FFFFFF" stroke-width="2" paint-order="stroke" stroke-linejoin="round">Explanation: A reference to a well-known person, place, event, or</text>
<text x="3302.46" y="1851.74" font-size="18.8" fill="#000" textLength="45.52" lengthAdjust="spacingAndGlyphs" stroke="#FFFFFF" stroke-width="2" paint-order="stroke" stroke-linejoin="round">story</text>
<text x="3302.46" y="1906.64" font-size="18.8" fill="#000" textLength="446.53" lengthAdjust="spacingAndGlyphs" stroke="#FFFFFF" stroke-width="2" paint-order="stroke" stroke-linejoin="round">Example: “Heavens” again refers to divine origin.</text>
<text x="2536.90" y="2098.89" font-size="20.9" font-weight="bold" fill="#000" textLength="510.61" lengthAdjust="spacingAndGlyphs" stroke="#FFFFFF" stroke-width="2" paint-order="stroke" stroke-linejoin="round">Line 6: “A symbol of power, beyond them all”</text>
<text x="3122.95" y="2047.99" font-size="18.8" font-weight="bold" fill="#000" textLength="110.52" lengthAdjust="spacingAndGlyphs" stroke="#FFFFFF" stroke-width="2" paint-order="stroke" stroke-linejoin="round">Symbolism</text>
<text x="3300.07" y="2007.04" font-size="18.8" fill="#000" textLength="614.22" lengthAdjust="spacingAndGlyphs" stroke="#FFFFFF" stroke-width="2" paint-order="stroke" stroke-linejoin="round">Explanation: Using an object or image to represent a deeper idea or</text>
<text x="3300.07" y="2034.04" font-size="18.8" fill="#000" textLength="78.88" lengthAdjust="spacingAndGlyphs" stroke="#FFFFFF" stroke-width="2" paint-order="stroke" stroke-linejoin="round">meaning</text>
<text x="3300.07" y="2088.94" font-size="18.8" fill="#000" textLength="495.86" lengthAdjust="spacingAndGlyphs" stroke="#FFFFFF" stroke-width="2" paint-order="stroke" stroke-linejoin="round">Example: The Golden Stool represents supreme power.</text>
<text x="3122.95" y="2171.29" font-size="18.8" font-weight="bold" fill="#000" textLength="104.39" lengthAdjust="spacingAndGlyphs" stroke="#FFFFFF" stroke-width="2" paint-order="stroke" stroke-linejoin="round">Hyperbole</text>
<text x="3293.94" y="2143.84" font-size="18.8" fill="#000" textLength="467.09" lengthAdjust="spacingAndGlyphs" stroke="#FFFFFF" stroke-width="2" paint-order="stroke" stroke-linejoin="round">Explanation: An exaggeration used to stress a point</text>
<text x="3293.94" y="2198.74" font-size="18.8" fill="#000" textLength="514.94" lengthAdjust="spacingAndGlyphs" stroke="#FFFFFF" stroke-width="2" paint-order="stroke" stroke-linejoin="round">Example: “Beyond them all” exaggerates its importance.</text>
<text x="2536.90" y="2459.39" font-size="20.9" font-weight="bold" fill="#000" textLength="503.61" lengthAdjust="spacingAndGlyphs" stroke="#FFFFFF" stroke-width="2" paint-order="stroke" stroke-linejoin="round">Line 7: “A stool of gold, with secrets untold”</text>
<text x="3115.95" y="2340.09" font-size="18.8" font-weight="bold" fill="#000" textLength="97.80" lengthAdjust="spacingAndGlyphs" stroke="#FFFFFF" stroke-width="2" paint-order="stroke" stroke-linejoin="round">Metaphor</text>
<text x="3280.35" y="2299.14" font-size="18.8" fill="#000" textLength="609.69" lengthAdjust="spacingAndGlyphs" stroke="#FFFFFF" stroke-width="2" paint-order="stroke" stroke-linejoin="round">Explanation: A direct comparison between two things without using</text>
<text x="3280.35" y="2326.14" font-size="18.8" fill="#000" textLength="118.44" lengthAdjust="spacingAndGlyphs" stroke="#FFFFFF" stroke-width="2" paint-order="stroke" stroke-linejoin="round">“like” or “as”</text>
<text x="3280.35" y="2381.04" font-size="18.8" fill="#000" textLength="588.23" lengthAdjust="spacingAndGlyphs" stroke="#FFFFFF" stroke-width="2" paint-order="stroke" stroke-linejoin="round">Example: Calling the stool “a stool of gold” emphasizes its value.</text>
<text x="3115.95" y="2463.39" font-size="18.8" font-weight="bold" fill="#000" textLength="105.89" lengthAdjust="spacingAndGlyphs" stroke="#FFFFFF" stroke-width="2" paint-order="stroke" stroke-linejoin="round">Repetition</text>
<text x="3288.44" y="2435.94" font-size="18.8" fill="#000" textLength="497.81" lengthAdjust="spacingAndGlyphs" stroke="#FFFFFF" stroke-width="2" paint-order="stroke" stroke-linejoin="round">Explanation: Repeating words or phrases for emphasis.</text>
<text x="3288.44" y="2490.84" font-size="18.8" fill="#000" textLength="329.70" lengthAdjust="spacingAndGlyphs" stroke="#FFFFFF" stroke-width="2" paint-order="stroke" stroke-linejoin="round">Example: “Untold” stresses mystery.</text>
<text x="3115.95" y="2586.69" font-size="18.8" font-weight="bold" fill="#000" textLength="110.52" lengthAdjust="spacingAndGlyphs" stroke="#FFFFFF" stroke-width="2" paint-order="stroke" stroke-linejoin="round">Symbolism</text>
<text x="3293.07" y="2545.74" font-size="18.8" fill="#000" textLength="614.22" lengthAdjust="spacingAndGlyphs" stroke="#FFFFFF" stroke-width="2" paint-order="stroke" stroke-linejoin="round">Explanation: Using an object or image to represent a deeper idea or</text>
<text x="3293.07" y="2572.74" font-size="18.8" fill="#000" textLength="78.88" lengthAdjust="spacingAndGlyphs" stroke="#FFFFFF" stroke-width="2" paint-order="stroke" stroke-linejoin="round">meaning</text>
<text x="3293.07" y="2627.64" font-size="18.8" fill="#000" textLength="436.16" lengthAdjust="spacingAndGlyphs" stroke="#FFFFFF" stroke-width="2" paint-order="stroke" stroke-linejoin="round">Example: Secrets hint at deep cultural meaning.</text>
<text x="2536.90" y="2888.29" font-size="20.9" font-weight="bold" fill="#000" textLength="536.58" lengthAdjust="spacingAndGlyphs" stroke="#FFFFFF" stroke-width="2" paint-order="stroke" stroke-linejoin="round">Line 8: “A treasure trove, of stories yet untold”</text>
<text x="3148.92" y="2768.99" font-size="18.8" font-weight="bold" fill="#000" textLength="97.80" lengthAdjust="spacingAndGlyphs" stroke="#FFFFFF" stroke-width="2" paint-order="stroke" stroke-linejoin="round">Metaphor</text>
<text x="3313.32" y="2728.04" font-size="18.8" fill="#000" textLength="609.69" lengthAdjust="spacingAndGlyphs" stroke="#FFFFFF" stroke-width="2" paint-order="stroke" stroke-linejoin="round">Explanation: A direct comparison between two things without using</text>
<text x="3313.32" y="2755.04" font-size="18.8" fill="#000" textLength="118.44" lengthAdjust="spacingAndGlyphs" stroke="#FFFFFF" stroke-width="2" paint-order="stroke" stroke-linejoin="round">“like” or “as”</text>
<text x="3313.32" y="2809.94" font-size="18.8" fill="#000" textLength="494.44" lengthAdjust="spacingAndGlyphs" stroke="#FFFFFF" stroke-width="2" paint-order="stroke" stroke-linejoin="round">Example: The stool is a “treasure trove,” full of history.</text>
<text x="3148.92" y="2892.29" font-size="18.8" font-weight="bold" fill="#000" textLength="105.89" lengthAdjust="spacingAndGlyphs" stroke="#FFFFFF" stroke-width="2" paint-order="stroke" stroke-linejoin="round">Repetition</text>
<text x="3321.41" y="2864.84" font-size="18.8" fill="#000" textLength="497.81" lengthAdjust="spacingAndGlyphs" stroke="#FFFFFF" stroke-width="2" paint-order="stroke" stroke-linejoin="round">Explanation: Repeating words or phrases for emphasis.</text>
<text x="3321.41" y="2919.74" font-size="18.8" fill="#000" textLength="512.14" lengthAdjust="spacingAndGlyphs" stroke="#FFFFFF" stroke-width="2" paint-order="stroke" stroke-linejoin="round">Example: “Untold” again emphasizes hidden knowledge.</text>
<text x="3148.92" y="3015.59" font-size="18.8" fill="#000" textLength="98.95" lengthAdjust="spacingAndGlyphs" stroke="#FFFFFF" stroke-width="2" paint-order="stroke" stroke-linejoin="round">Symbolism</text>
<text x="3314.47" y="2974.64" font-size="18.8" fill="#000" textLength="614.22" lengthAdjust="spacingAndGlyphs" stroke="#FFFFFF" stroke-width="2" paint-order="stroke" stroke-linejoin="round">Explanation: Using an object or image to represent a deeper idea or</text>
<text x="3314.47" y="3001.64" font-size="18.8" fill="#000" textLength="78.88" lengthAdjust="spacingAndGlyphs" stroke="#FFFFFF" stroke-width="2" paint-order="stroke" stroke-linejoin="round">meaning</text>
<text x="3314.47" y="3056.54" font-size="18.8" fill="#000" textLength="467.22" lengthAdjust="spacingAndGlyphs" stroke="#FFFFFF" stroke-width="2" paint-order="stroke" stroke-linejoin="round">Example: The stool holds the Ashanti people’s past.</text>
<text x="980.50" y="270.20" font-size="20.9" font-weight="bold" fill="#000" textLength="606.69" lengthAdjust="spacingAndGlyphs" stroke="#FFFFFF" stroke-width="2" paint-order="stroke" stroke-linejoin="round">Line 16: “A treasure that's timeless, as the universe's</text>
<text x="980.50" y="300.20" font-size="20.9" font-weight="bold" fill="#000" textLength="61.44" lengthAdjust="spacingAndGlyphs" stroke="#FFFFFF" stroke-width="2" paint-order="stroke" stroke-linejoin="round">glee”</text>
<text x="825.21" y="165.90" font-size="18.8" fill="#000" textLength="85.95" lengthAdjust="spacingAndGlyphs" stroke="#FFFFFF" stroke-width="2" paint-order="stroke" stroke-linejoin="round">Metaphor</text>
<text x="134.41" y="124.95" font-size="18.8" fill="#000" textLength="609.69" lengthAdjust="spacingAndGlyphs" stroke="#FFFFFF" stroke-width="2" paint-order="stroke" stroke-linejoin="round">Explanation: A direct comparison between two things without using</text>
<text x="134.41" y="151.95" font-size="18.8" fill="#000" textLength="118.44" lengthAdjust="spacingAndGlyphs" stroke="#FFFFFF" stroke-width="2" paint-order="stroke" stroke-linejoin="round">“like” or “as”</text>
<text x="362.84" y="206.85" font-size="18.8" fill="#000" textLength="395.77" lengthAdjust="spacingAndGlyphs" stroke="#FFFFFF" stroke-width="2" paint-order="stroke" stroke-linejoin="round">Example: The stool is a “timeless treasure.”</text>
<text x="856.13" y="289.20" font-size="18.8" fill="#000" textLength="55.03" lengthAdjust="spacingAndGlyphs" stroke="#FFFFFF" stroke-width="2" paint-order="stroke" stroke-linejoin="round">Simile</text>
<text x="219.73" y="261.75" font-size="18.8" fill="#000" textLength="569.80" lengthAdjust="spacingAndGlyphs" stroke="#FFFFFF" stroke-width="2" paint-order="stroke" stroke-linejoin="round">Explanation: Compares two different things using “like” or “as”</text>
<text x="233.06" y="316.65" font-size="18.8" fill="#000" textLength="556.47" lengthAdjust="spacingAndGlyphs" stroke="#FFFFFF" stroke-width="2" paint-order="stroke" stroke-linejoin="round">Example: Compares its timelessness to “the universe’s glee.”</text>
<text x="812.21" y="412.50" font-size="18.8" fill="#000" textLength="98.95" lengthAdjust="spacingAndGlyphs" stroke="#FFFFFF" stroke-width="2" paint-order="stroke" stroke-linejoin="round">Symbolism</text>
<text x="121.41" y="371.55" font-size="18.8" fill="#000" textLength="614.22" lengthAdjust="spacingAndGlyphs" stroke="#FFFFFF" stroke-width="2" paint-order="stroke" stroke-linejoin="round">Explanation: Using an object or image to represent a deeper idea or</text>
<text x="121.41" y="398.55" font-size="18.8" fill="#000" textLength="78.88" lengthAdjust="spacingAndGlyphs" stroke="#FFFFFF" stroke-width="2" paint-order="stroke" stroke-linejoin="round">meaning</text>
<text x="281.81" y="453.45" font-size="18.8" fill="#000" textLength="463.80" lengthAdjust="spacingAndGlyphs" stroke="#FFFFFF" stroke-width="2" paint-order="stroke" stroke-linejoin="round">Example: Highlights the stool’s eternal importance.</text>
<text x="1147.71" y="659.20" font-size="20.9" font-weight="bold" fill="#000" textLength="474.09" lengthAdjust="spacingAndGlyphs" stroke="#FFFFFF" stroke-width="2" paint-order="stroke" stroke-linejoin="round">Line 15: “A symbol of unity, for all to see”</text>
<text x="979.41" y="594.80" font-size="18.8" fill="#000" textLength="98.95" lengthAdjust="spacingAndGlyphs" stroke="#FFFFFF" stroke-width="2" paint-order="stroke" stroke-linejoin="round">Symbolism</text>
<text x="288.61" y="553.85" font-size="18.8" fill="#000" textLength="614.22" lengthAdjust="spacingAndGlyphs" stroke="#FFFFFF" stroke-width="2" paint-order="stroke" stroke-linejoin="round">Explanation: Using an object or image to represent a deeper idea or</text>
<text x="288.61" y="580.85" font-size="18.8" fill="#000" textLength="78.88" lengthAdjust="spacingAndGlyphs" stroke="#FFFFFF" stroke-width="2" paint-order="stroke" stroke-linejoin="round">meaning</text>
<text x="510.92" y="635.75" font-size="18.8" fill="#000" textLength="401.89" lengthAdjust="spacingAndGlyphs" stroke="#FFFFFF" stroke-width="2" paint-order="stroke" stroke-linejoin="round">Example: The stool represents Ashanti unity.</text>
<text x="1003.93" y="731.60" font-size="18.8" fill="#000" textLength="74.44" lengthAdjust="spacingAndGlyphs" stroke="#FFFFFF" stroke-width="2" paint-order="stroke" stroke-linejoin="round">Imagery</text>
<text x="313.13" y="690.65" font-size="18.8" fill="#000" textLength="588.61" lengthAdjust="spacingAndGlyphs" stroke="#FFFFFF" stroke-width="2" paint-order="stroke" stroke-linejoin="round">Explanation: Use of vivid language to create mental pictures that</text>
<text x="313.13" y="717.65" font-size="18.8" fill="#000" textLength="193.17" lengthAdjust="spacingAndGlyphs" stroke="#FFFFFF" stroke-width="2" paint-order="stroke" stroke-linejoin="round">appeal to the senses.</text>
<text x="495.19" y="772.55" font-size="18.8" fill="#000" textLength="442.14" lengthAdjust="spacingAndGlyphs" stroke="#FFFFFF" stroke-width="2" paint-order="stroke" stroke-linejoin="round">Example: Visualizes the stool as a public symbol.</text>
<text x="1076.39" y="1033.20" font-size="20.9" font-weight="bold" fill="#000" textLength="545.41" lengthAdjust="spacingAndGlyphs" stroke="#FFFFFF" stroke-width="2" paint-order="stroke" stroke-linejoin="round">Line 14: “A gift from the gods, of infinite worth”</text>
<text x="921.10" y="913.90" font-size="18.8" fill="#000" textLength="85.95" lengthAdjust="spacingAndGlyphs" stroke="#FFFFFF" stroke-width="2" paint-order="stroke" stroke-linejoin="round">Metaphor</text>
<text x="230.30" y="872.95" font-size="18.8" fill="#000" textLength="609.69" lengthAdjust="spacingAndGlyphs" stroke="#FFFFFF" stroke-width="2" paint-order="stroke" stroke-linejoin="round">Explanation: A direct comparison between two things without using</text>
<text x="230.30" y="899.95" font-size="18.8" fill="#000" textLength="118.44" lengthAdjust="spacingAndGlyphs" stroke="#FFFFFF" stroke-width="2" paint-order="stroke" stroke-linejoin="round">“like” or “as”</text>
<text x="585.50" y="954.85" font-size="18.8" fill="#000" textLength="269.00" lengthAdjust="spacingAndGlyphs" stroke="#FFFFFF" stroke-width="2" paint-order="stroke" stroke-linejoin="round">Example: The stool is a “gift.”</text>
<text x="914.44" y="1037.20" font-size="18.8" fill="#000" textLength="92.61" lengthAdjust="spacingAndGlyphs" stroke="#FFFFFF" stroke-width="2" paint-order="stroke" stroke-linejoin="round">Hyperbole</text>
<text x="380.75" y="1009.75" font-size="18.8" fill="#000" textLength="467.09" lengthAdjust="spacingAndGlyphs" stroke="#FFFFFF" stroke-width="2" paint-order="stroke" stroke-linejoin="round">Explanation: An exaggeration used to stress a point</text>
<text x="413.56" y="1064.65" font-size="18.8" fill="#000" textLength="434.28" lengthAdjust="spacingAndGlyphs" stroke="#FFFFFF" stroke-width="2" paint-order="stroke" stroke-linejoin="round">Example: “Infinite worth” exaggerates its value.</text>
<text x="936.54" y="1160.50" font-size="18.8" fill="#000" textLength="70.52" lengthAdjust="spacingAndGlyphs" stroke="#FFFFFF" stroke-width="2" paint-order="stroke" stroke-linejoin="round">Allusion</text>
<text x="245.74" y="1119.55" font-size="18.8" fill="#000" textLength="589.59" lengthAdjust="spacingAndGlyphs" stroke="#FFFFFF" stroke-width="2" paint-order="stroke" stroke-linejoin="round">Explanation: A reference to a well-known person, place, event, or</text>
<text x="245.74" y="1146.55" font-size="18.8" fill="#000" textLength="45.52" lengthAdjust="spacingAndGlyphs" stroke="#FFFFFF" stroke-width="2" paint-order="stroke" stroke-linejoin="round">story</text>
<text x="429.99" y="1201.45" font-size="18.8" fill="#000" textLength="439.95" lengthAdjust="spacingAndGlyphs" stroke="#FFFFFF" stroke-width="2" paint-order="stroke" stroke-linejoin="round">Example: Refers to divine origin and sacredness.</text>
<text x="1007.80" y="1462.10" font-size="20.9" font-weight="bold" fill="#000" textLength="614.00" lengthAdjust="spacingAndGlyphs" stroke="#FFFFFF" stroke-width="2" paint-order="stroke" stroke-linejoin="round">Line 13: “The mystic's charm, has brought it to earth”</text>
<text x="852.51" y="1342.80" font-size="18.8" fill="#000" textLength="85.95" lengthAdjust="spacingAndGlyphs" stroke="#FFFFFF" stroke-width="2" paint-order="stroke" stroke-linejoin="round">Metaphor</text>
<text x="161.71" y="1301.85" font-size="18.8" fill="#000" textLength="609.69" lengthAdjust="spacingAndGlyphs" stroke="#FFFFFF" stroke-width="2" paint-order="stroke" stroke-linejoin="round">Explanation: A direct comparison between two things without using</text>
<text x="161.71" y="1328.85" font-size="18.8" fill="#000" textLength="118.44" lengthAdjust="spacingAndGlyphs" stroke="#FFFFFF" stroke-width="2" paint-order="stroke" stroke-linejoin="round">“like” or “as”</text>
<text x="380.47" y="1383.75" font-size="18.8" fill="#000" textLength="405.44" lengthAdjust="spacingAndGlyphs" stroke="#FFFFFF" stroke-width="2" paint-order="stroke" stroke-linejoin="round">Example: “Charm” stands for magical power.</text>
<text x="806.21" y="1466.10" font-size="18.8" fill="#000" textLength="132.25" lengthAdjust="spacingAndGlyphs" stroke="#FFFFFF" stroke-width="2" paint-order="stroke" stroke-linejoin="round">Personification</text>
<text x="141.61" y="1438.65" font-size="18.8" fill="#000" textLength="598.00" lengthAdjust="spacingAndGlyphs" stroke="#FFFFFF" stroke-width="2" paint-order="stroke" stroke-linejoin="round">Explanation: Giving human qualities to non-human things or ideas</text>
<text x="328.72" y="1493.55" font-size="18.8" fill="#000" textLength="410.89" lengthAdjust="spacingAndGlyphs" stroke="#FFFFFF" stroke-width="2" paint-order="stroke" stroke-linejoin="round">Example: The charm “brings” the stool down.</text>
<text x="864.02" y="1589.40" font-size="18.8" fill="#000" textLength="74.44" lengthAdjust="spacingAndGlyphs" stroke="#FFFFFF" stroke-width="2" paint-order="stroke" stroke-linejoin="round">Imagery</text>
<text x="173.22" y="1548.45" font-size="18.8" fill="#000" textLength="588.61" lengthAdjust="spacingAndGlyphs" stroke="#FFFFFF" stroke-width="2" paint-order="stroke" stroke-linejoin="round">Explanation: Use of vivid language to create mental pictures that</text>
<text x="173.22" y="1575.45" font-size="18.8" fill="#000" textLength="193.17" lengthAdjust="spacingAndGlyphs" stroke="#FFFFFF" stroke-width="2" paint-order="stroke" stroke-linejoin="round">appeal to the senses.</text>
<text x="357.67" y="1630.35" font-size="18.8" fill="#000" textLength="439.75" lengthAdjust="spacingAndGlyphs" stroke="#FFFFFF" stroke-width="2" paint-order="stroke" stroke-linejoin="round">Example: Creates a sense of magic and mystery.</text>
<text x="1141.14" y="1836.10" font-size="20.9" font-weight="bold" fill="#000" textLength="480.66" lengthAdjust="spacingAndGlyphs" stroke="#FFFFFF" stroke-width="2" paint-order="stroke" stroke-linejoin="round">Line 12: “A reminder of the power of love”</text>
<text x="985.85" y="1771.70" font-size="18.8" fill="#000" textLength="85.95" lengthAdjust="spacingAndGlyphs" stroke="#FFFFFF" stroke-width="2" paint-order="stroke" stroke-linejoin="round">Metaphor</text>
<text x="295.05" y="1730.75" font-size="18.8" fill="#000" textLength="609.69" lengthAdjust="spacingAndGlyphs" stroke="#FFFFFF" stroke-width="2" paint-order="stroke" stroke-linejoin="round">Explanation: A direct comparison between two things without using</text>
<text x="295.05" y="1757.75" font-size="18.8" fill="#000" textLength="118.44" lengthAdjust="spacingAndGlyphs" stroke="#FFFFFF" stroke-width="2" paint-order="stroke" stroke-linejoin="round">“like” or “as”</text>
<text x="454.36" y="1812.65" font-size="18.8" fill="#000" textLength="464.89" lengthAdjust="spacingAndGlyphs" stroke="#FFFFFF" stroke-width="2" paint-order="stroke" stroke-linejoin="round">Example: The stool reminds people of love’s power.</text>
<text x="972.85" y="1908.50" font-size="18.8" fill="#000" textLength="98.95" lengthAdjust="spacingAndGlyphs" stroke="#FFFFFF" stroke-width="2" paint-order="stroke" stroke-linejoin="round">Symbolism</text>
<text x="282.05" y="1867.55" font-size="18.8" fill="#000" textLength="614.22" lengthAdjust="spacingAndGlyphs" stroke="#FFFFFF" stroke-width="2" paint-order="stroke" stroke-linejoin="round">Explanation: Using an object or image to represent a deeper idea or</text>
<text x="282.05" y="1894.55" font-size="18.8" fill="#000" textLength="78.88" lengthAdjust="spacingAndGlyphs" stroke="#FFFFFF" stroke-width="2" paint-order="stroke" stroke-linejoin="round">meaning</text>
<text x="546.36" y="1949.45" font-size="18.8" fill="#000" textLength="359.89" lengthAdjust="spacingAndGlyphs" stroke="#FFFFFF" stroke-width="2" paint-order="stroke" stroke-linejoin="round">Example: Love ties the people together.</text>
<text x="1123.00" y="2223.60" font-size="20.9" font-weight="bold" fill="#000" textLength="498.80" lengthAdjust="spacingAndGlyphs" stroke="#FFFFFF" stroke-width="2" paint-order="stroke" stroke-linejoin="round">Line 11: “A token of greatness, from above”</text>
<text x="967.71" y="2090.80" font-size="18.8" fill="#000" textLength="85.95" lengthAdjust="spacingAndGlyphs" stroke="#FFFFFF" stroke-width="2" paint-order="stroke" stroke-linejoin="round">Metaphor</text>
<text x="276.91" y="2049.85" font-size="18.8" fill="#000" textLength="609.69" lengthAdjust="spacingAndGlyphs" stroke="#FFFFFF" stroke-width="2" paint-order="stroke" stroke-linejoin="round">Explanation: A direct comparison between two things without using</text>
<text x="276.91" y="2076.85" font-size="18.8" fill="#000" textLength="118.44" lengthAdjust="spacingAndGlyphs" stroke="#FFFFFF" stroke-width="2" paint-order="stroke" stroke-linejoin="round">“like” or “as”</text>
<text x="428.25" y="2131.75" font-size="18.8" fill="#000" textLength="472.86" lengthAdjust="spacingAndGlyphs" stroke="#FFFFFF" stroke-width="2" paint-order="stroke" stroke-linejoin="round">Example: The stool is a “token,” a sign of greatness.</text>
<text x="983.15" y="2227.60" font-size="18.8" fill="#000" textLength="70.52" lengthAdjust="spacingAndGlyphs" stroke="#FFFFFF" stroke-width="2" paint-order="stroke" stroke-linejoin="round">Allusion</text>
<text x="292.35" y="2186.65" font-size="18.8" fill="#000" textLength="589.59" lengthAdjust="spacingAndGlyphs" stroke="#FFFFFF" stroke-width="2" paint-order="stroke" stroke-linejoin="round">Explanation: A reference to a well-known person, place, event, or</text>
<text x="292.35" y="2213.65" font-size="18.8" fill="#000" textLength="45.52" lengthAdjust="spacingAndGlyphs" stroke="#FFFFFF" stroke-width="2" paint-order="stroke" stroke-linejoin="round">story</text>
<text x="498.25" y="2268.55" font-size="18.8" fill="#000" textLength="418.30" lengthAdjust="spacingAndGlyphs" stroke="#FFFFFF" stroke-width="2" paint-order="stroke" stroke-linejoin="round">Example: “From above” refers to divine origin.</text>
<text x="954.71" y="2364.40" font-size="18.8" fill="#000" textLength="98.95" lengthAdjust="spacingAndGlyphs" stroke="#FFFFFF" stroke-width="2" paint-order="stroke" stroke-linejoin="round">Symbolism</text>
<text x="263.91" y="2323.45" font-size="18.8" fill="#000" textLength="614.22" lengthAdjust="spacingAndGlyphs" stroke="#FFFFFF" stroke-width="2" paint-order="stroke" stroke-linejoin="round">Explanation: Using an object or image to represent a deeper idea or</text>
<text x="263.91" y="2350.45" font-size="18.8" fill="#000" textLength="78.88" lengthAdjust="spacingAndGlyphs" stroke="#FFFFFF" stroke-width="2" paint-order="stroke" stroke-linejoin="round">meaning</text>
<text x="647.78" y="2405.35" font-size="18.8" fill="#000" textLength="240.33" lengthAdjust="spacingAndGlyphs" stroke="#FFFFFF" stroke-width="2" paint-order="stroke" stroke-linejoin="round">Example: It is a divine gift.</text>
<text x="1042.80" y="2611.10" font-size="20.9" font-weight="bold" fill="#000" textLength="579.00" lengthAdjust="spacingAndGlyphs" stroke="#FFFFFF" stroke-width="2" paint-order="stroke" stroke-linejoin="round">Line 10: “To behold the wonder, that's been found”</text>
<text x="887.51" y="2546.70" font-size="18.8" fill="#000" textLength="85.95" lengthAdjust="spacingAndGlyphs" stroke="#FFFFFF" stroke-width="2" paint-order="stroke" stroke-linejoin="round">Metaphor</text>
<text x="196.71" y="2505.75" font-size="18.8" fill="#000" textLength="609.69" lengthAdjust="spacingAndGlyphs" stroke="#FFFFFF" stroke-width="2" paint-order="stroke" stroke-linejoin="round">Explanation: A direct comparison between two things without using</text>
<text x="196.71" y="2532.75" font-size="18.8" fill="#000" textLength="118.44" lengthAdjust="spacingAndGlyphs" stroke="#FFFFFF" stroke-width="2" paint-order="stroke" stroke-linejoin="round">“like” or “as”</text>
<text x="516.03" y="2587.65" font-size="18.8" fill="#000" textLength="304.88" lengthAdjust="spacingAndGlyphs" stroke="#FFFFFF" stroke-width="2" paint-order="stroke" stroke-linejoin="round">Example: The stool is “a wonder.”</text>
<text x="899.02" y="2683.50" font-size="18.8" fill="#000" textLength="74.44" lengthAdjust="spacingAndGlyphs" stroke="#FFFFFF" stroke-width="2" paint-order="stroke" stroke-linejoin="round">Imagery</text>
<text x="208.22" y="2642.55" font-size="18.8" fill="#000" textLength="588.61" lengthAdjust="spacingAndGlyphs" stroke="#FFFFFF" stroke-width="2" paint-order="stroke" stroke-linejoin="round">Explanation: Use of vivid language to create mental pictures that</text>
<text x="208.22" y="2669.55" font-size="18.8" fill="#000" textLength="193.17" lengthAdjust="spacingAndGlyphs" stroke="#FFFFFF" stroke-width="2" paint-order="stroke" stroke-linejoin="round">appeal to the senses.</text>
<text x="375.80" y="2724.45" font-size="18.8" fill="#000" textLength="456.62" lengthAdjust="spacingAndGlyphs" stroke="#FFFFFF" stroke-width="2" paint-order="stroke" stroke-linejoin="round">Example: Visualizes the people admiring the stool.</text>
<text x="1048.89" y="2916.70" font-size="20.9" font-weight="bold" fill="#000" textLength="572.91" lengthAdjust="spacingAndGlyphs" stroke="#FFFFFF" stroke-width="2" paint-order="stroke" stroke-linejoin="round">Line 9: “With reverence, the people gather round”</text>
<text x="905.12" y="2865.80" font-size="18.8" fill="#000" textLength="74.44" lengthAdjust="spacingAndGlyphs" stroke="#FFFFFF" stroke-width="2" paint-order="stroke" stroke-linejoin="round">Imagery</text>
<text x="214.32" y="2824.85" font-size="18.8" fill="#000" textLength="588.61" lengthAdjust="spacingAndGlyphs" stroke="#FFFFFF" stroke-width="2" paint-order="stroke" stroke-linejoin="round">Explanation: Use of vivid language to create mental pictures that</text>
<text x="214.32" y="2851.85" font-size="18.8" fill="#000" textLength="193.17" lengthAdjust="spacingAndGlyphs" stroke="#FFFFFF" stroke-width="2" paint-order="stroke" stroke-linejoin="round">appeal to the senses.</text>
<text x="352.34" y="2906.75" font-size="18.8" fill="#000" textLength="486.17" lengthAdjust="spacingAndGlyphs" stroke="#FFFFFF" stroke-width="2" paint-order="stroke" stroke-linejoin="round">Example: Shows respectful behavior toward the stool.</text>
<text x="761.10" y="2989.10" font-size="18.8" fill="#000" textLength="218.45" lengthAdjust="spacingAndGlyphs" stroke="#FFFFFF" stroke-width="2" paint-order="stroke" stroke-linejoin="round">Personification (implied)</text>
<text x="96.50" y="2961.65" font-size="18.8" fill="#000" textLength="598.00" lengthAdjust="spacingAndGlyphs" stroke="#FFFFFF" stroke-width="2" paint-order="stroke" stroke-linejoin="round">Explanation: Giving human qualities to non-human things or ideas</text>
<text x="338.67" y="3016.55" font-size="18.8" fill="#000" textLength="355.83" lengthAdjust="spacingAndGlyphs" stroke="#FFFFFF" stroke-width="2" paint-order="stroke" stroke-linejoin="round">Example: The stool commands respect.</text>
<text x="1759.50" y="1567.40" font-size="26.1" font-weight="bold" fill="#FFFFFF" textLength="636.42" lengthAdjust="spacingAndGlyphs">Mystic Figure from Ghana: Figures of Speech</text>
</svg></body></html>
